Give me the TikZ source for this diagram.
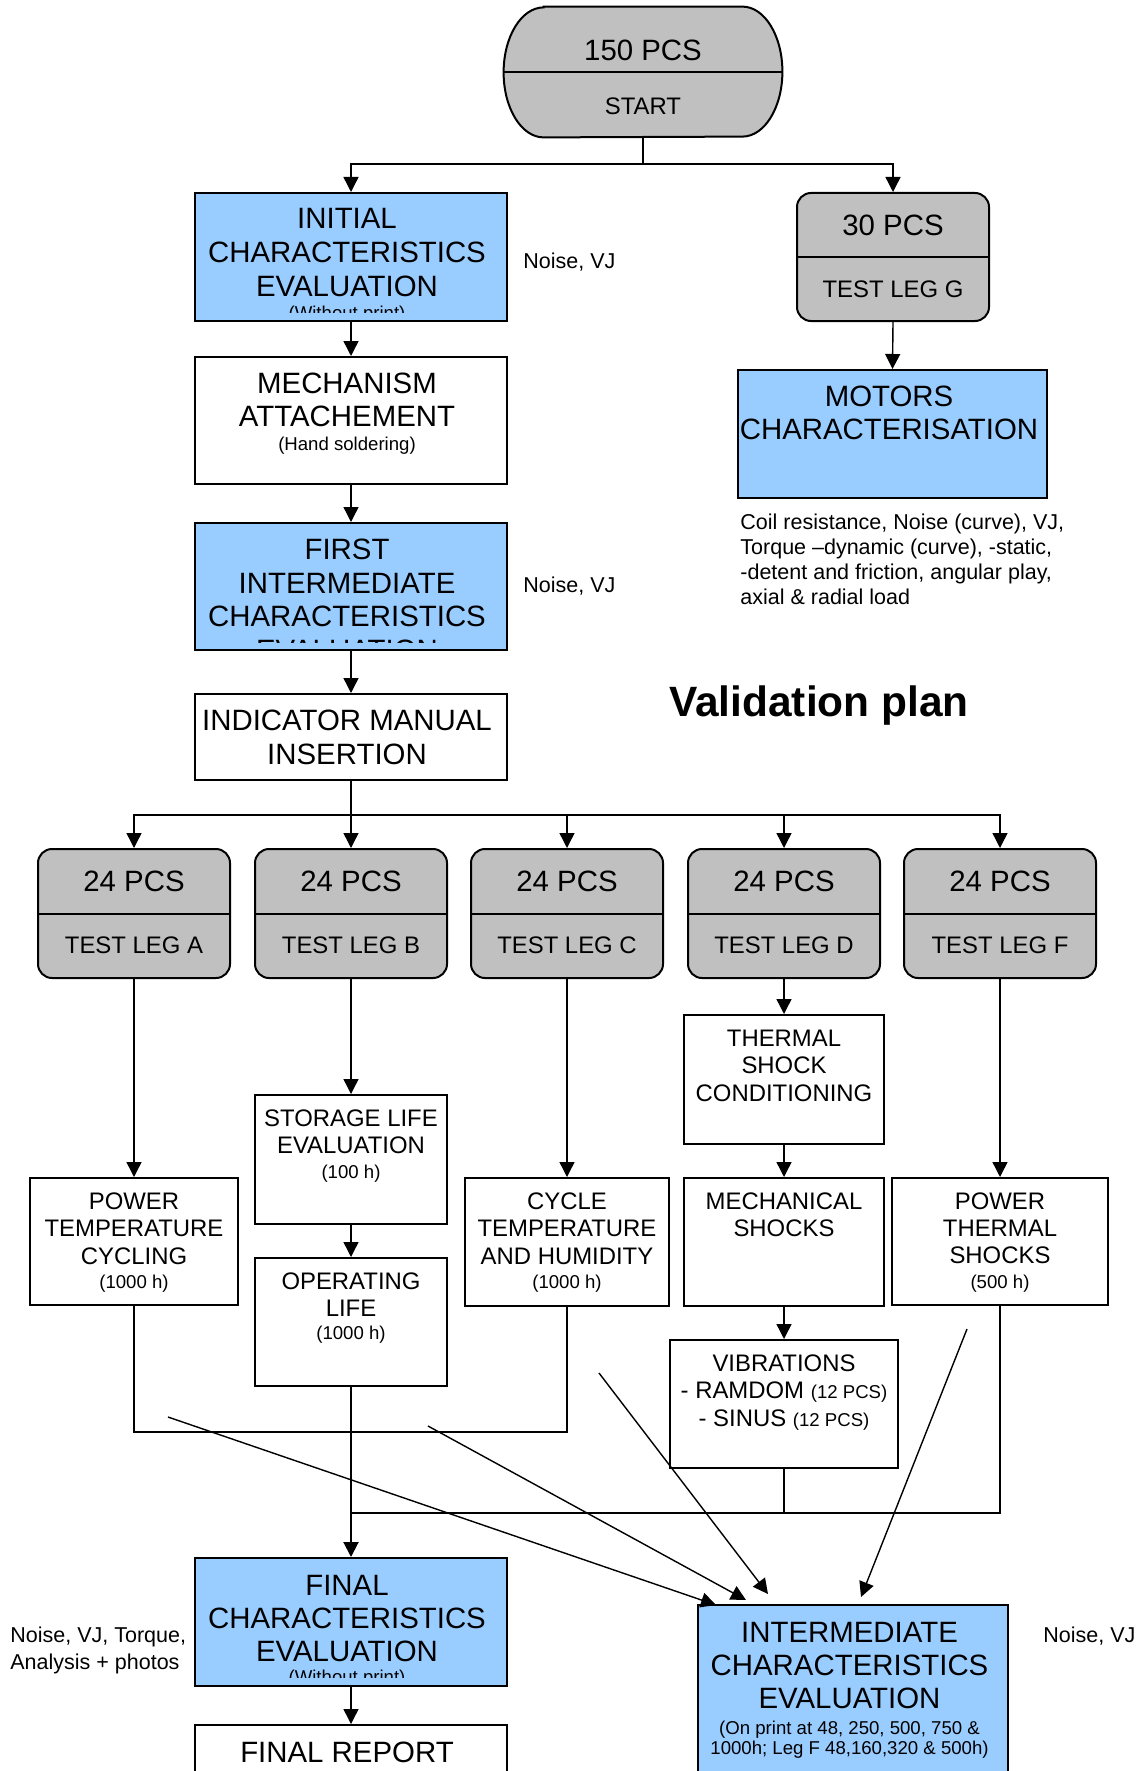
\documentclass[tikz,border=0pt]{standalone}
\usepackage{fontspec}
\setmainfont{Liberation Sans}
\usetikzlibrary{fit,arrows.meta}
\definecolor{blueC}{HTML}{99CCFF}
\definecolor{grayC}{HTML}{C0C0C0}
\newcommand\fbig{\fontsize{14.7pt}{16pt}\selectfont}
\newcommand\fmed{\fontsize{11.95pt}{14pt}\selectfont}
\newcommand\fsml{\fontsize{9.3pt}{11pt}\selectfont}
\newcommand\fnote{\fontsize{10.75pt}{12.5pt}\selectfont}
\newcounter{tln}
\newcommand\tl[4]{\stepcounter{tln}\edef\tlname{t\arabic{tln}}\node[#1] (\tlname) at (#2,#3) {#4};}
\begin{document}
\begin{tikzpicture}[x=0.5pt,y=-0.5pt,
  big/.style={font=\fbig, anchor=base, yshift=-5.26pt, inner sep=0pt},
  med/.style={font=\fmed, anchor=base, yshift=-4.28pt, inner sep=0pt},
  sml/.style={font=\fsml, anchor=base, yshift=-3.33pt, inner sep=0pt},
  note/.style={font=\fnote, anchor=base west, yshift=-3.85pt, inner sep=0pt},
  bx/.style={draw, line width=1pt, inner sep=0pt, fill=white},
  bl/.style={bx, fill=blueC},
  lg/.style={bx, fill=grayC, rounded corners=7pt},
  divl/.style={line width=1pt},
  conn/.style={line width=0.7pt},
  bus/.style={line width=1pt},
  >={Triangle[length=7.5pt,width=7.5pt]}
]
\useasboundingbox (0,0) rectangle (1137,1771);

% ---------- start
\node[inner sep=0pt, minimum width=139pt, minimum height=65pt] (start) at (643,72) {};
\draw[fill=grayC, line width=1pt]
  ([xshift=20pt]start.north west) -- ([xshift=-20pt]start.north east)
  arc[start angle=90, end angle=-90, x radius=20pt, y radius=32.5pt]
  -- ([xshift=20pt]start.south west)
  arc[start angle=270, end angle=90, x radius=20pt, y radius=32.5pt] -- cycle;
\draw[divl] (start.west) -- (start.east);
\tl{big}{643}{50}{150 PCS}
\tl{med}{643}{106}{START}

% ---------- left column
\node[bl, fit={(195,193) (507,321)}] (init) {};
\tl{big}{347}{218}{INITIAL}
\tl{big}{347}{252}{CHARACTERISTICS}
\tl{big}{347}{286}{EVALUATION}
\begin{scope}
  \clip (195,193) rectangle (507,312);
  \tl{sml}{347}{313}{(Without print)}
\end{scope}
\tl{note}{523}{261}{Noise, VJ}

\node[bx, fit={(195,357) (507,484)}] (mech) {};
\tl{big}{347}{383}{MECHANISM}
\tl{big}{347}{416}{ATTACHEMENT}
\tl{sml}{347}{444}{(Hand soldering)}

\node[bl, fit={(195,523) (507,650)}] (first) {};
\tl{big}{347}{548.5}{FIRST}
\tl{big}{347}{582.5}{INTERMEDIATE}
\tl{big}{347}{615.8}{CHARACTERISTICS}
\begin{scope}
  \clip (195,523) rectangle (507,642);
  \tl{big}{347}{649.5}{EVALUATION}
\end{scope}
\tl{note}{523}{585}{Noise, VJ}

\node[bx, fit={(195,694) (507,780)}] (ind) {};
\tl{big}{347}{720}{INDICATOR MANUAL}
\tl{big}{347}{754}{INSERTION}

% ---------- right top
\node[lg, fit={(797,193) (989,321)}] (legG) {};
\draw[divl] (legG.west) -- (legG.east);
\tl{big}{893}{225}{30 PCS}
\tl{med}{893}{289}{TEST LEG G}

\node[bl, fit={(738,370) (1047,498)}] (motors) {};
\tl{big}{889}{396}{MOTORS}
\tl{big}{889}{429}{CHARACTERISATION}

\tl{note}{740}{522}{Coil resistance, Noise (curve), VJ,}
\tl{note}{740}{547}{Torque –dynamic (curve), -static,}
\tl{note}{740}{572}{-detent and friction, angular play,}
\tl{note}{740}{597}{axial \& radial load}

\node[font=\bfseries\fontsize{21.2pt}{24pt}\selectfont, anchor=base, yshift=-7.6pt, inner sep=0pt] (title) at (819,701) {Validation plan};

% ---------- legs
\node[lg, fit={(38,849) (230,978)}] (legA) {};
\node[lg, fit={(255,849) (447,978)}] (legB) {};
\node[lg, fit={(471,849) (663,978)}] (legC) {};
\node[lg, fit={(688,849) (880,978)}] (legD) {};
\node[lg, fit={(904,849) (1096,978)}] (legF) {};
\foreach \n in {legA,legB,legC,legD,legF} {\draw[divl] (\n.west) -- (\n.east);}
\tl{big}{134}{881}{24 PCS}
\tl{big}{351}{881}{24 PCS}
\tl{big}{567}{881}{24 PCS}
\tl{big}{784}{881}{24 PCS}
\tl{big}{1000}{881}{24 PCS}
\tl{med}{134}{945}{TEST LEG A}
\tl{med}{351}{945}{TEST LEG B}
\tl{med}{567}{945}{TEST LEG C}
\tl{med}{784}{945}{TEST LEG D}
\tl{med}{1000}{945}{TEST LEG F}

% ---------- test boxes
\node[bx, fit={(30,1178) (238,1305)}] (powA) {};
\tl{med}{134}{1201}{POWER}
\tl{med}{134}{1227.5}{TEMPERATURE}
\tl{med}{134}{1255.5}{CYCLING}
\tl{sml}{134}{1282}{(1000 h)}

\node[bx, fit={(255,1095) (447,1224)}] (stor) {};
\tl{med}{351}{1118}{STORAGE LIFE}
\tl{med}{351}{1145}{EVALUATION}
\tl{sml}{351}{1172}{(100 h)}

\node[bx, fit={(255,1258) (447,1386)}] (oper) {};
\tl{med}{351}{1281}{OPERATING}
\tl{med}{351}{1307.5}{LIFE}
\tl{sml}{351}{1333}{(1000 h)}

\node[bx, fit={(465,1178) (669,1306)}] (cycle) {};
\tl{med}{567}{1201}{CYCLE}
\tl{med}{567}{1227.5}{TEMPERATURE}
\tl{med}{567}{1255.5}{AND HUMIDITY}
\tl{sml}{567}{1282}{(1000 h)}

\node[bx, fit={(684,1015) (884,1144)}] (thermal) {};
\tl{med}{784}{1038}{THERMAL}
\tl{med}{784}{1065}{SHOCK}
\tl{med}{784}{1093}{CONDITIONING}

\node[bx, fit={(684,1178) (884,1306)}] (mechS) {};
\tl{med}{784}{1201}{MECHANICAL}
\tl{med}{784}{1227.5}{SHOCKS}

\node[bx, fit={(670,1340) (898,1468)}] (vib) {};
\tl{med}{784}{1362.5}{VIBRATIONS}
\tl{med}{784}{1390}{- RAMDOM {\fsml(12 PCS)}}
\tl{med}{784}{1417.5}{- SINUS {\fsml(12 PCS)}}

\node[bx, fit={(892,1178) (1108,1305)}] (ptherm) {};
\tl{med}{1000}{1201}{POWER}
\tl{med}{1000}{1227.5}{THERMAL}
\tl{med}{1000}{1255}{SHOCKS}
\tl{sml}{1000}{1282}{(500 h)}

% ---------- bottom
\node[bl, fit={(195,1558) (507,1686)}] (final) {};
\tl{big}{347}{1584.5}{FINAL}
\tl{big}{347}{1617.5}{CHARACTERISTICS}
\tl{big}{347}{1650.5}{EVALUATION}
\begin{scope}
  \clip (195,1558) rectangle (507,1677);
  \tl{sml}{347}{1677}{(Without print)}
\end{scope}
\tl{note}{10}{1635}{Noise, VJ, Torque,}
\tl{note}{10}{1662}{Analysis + photos}

\node[bx, fit={(195,1725) (507,1800)}] (report) {};
\tl{big}{347}{1752}{FINAL REPORT}

\node[bl, fit={(698,1605) (1008,1800)}] (inter) {};
\tl{big}{849.5}{1632}{INTERMEDIATE}
\tl{big}{849.5}{1665}{CHARACTERISTICS}
\tl{big}{849.5}{1698}{EVALUATION}
\tl{sml}{849.5}{1727.5}{(On print at 48, 250, 500, 750 \&}
\tl{sml}{849.5}{1748}{1000h; Leg F 48,160,320 \& 500h)}
\tl{note}{1043}{1635}{Noise, VJ}

% ---------- connectors
\coordinate (sj) at (643,164);
\draw[conn] (start.south) -- (sj);
\draw[conn,->] (sj) -| (init.north);
\draw[conn,->] (sj) -| (legG.north);
\draw[conn,->] (legG.south) -- (motors.north);
\draw[conn,->] (init.south) -- (mech.north);
\draw[conn,->] (mech.south) -- (first.north);
\draw[conn,->] (first.south) -- (ind.north);

\coordinate (bj) at (351,815);
\draw[conn] (ind.south) -- (bj);
\foreach \n in {legA,legB,legC,legD,legF} {\draw[conn,->] (bj) -| (\n.north);}

\draw[conn,->] (legA.south) -- (powA.north);
\draw[conn,->] (legB.south) -- (stor.north);
\draw[conn,->] (stor.south) -- (oper.north);
\draw[conn,->] (legC.south) -- (cycle.north);
\draw[conn,->] (legD.south) -- (thermal.north);
\draw[conn,->] (thermal.south) -- (mechS.north);
\draw[conn,->] (mechS.south) -- (vib.north);
\draw[conn,->] (legF.south) -- (ptherm.north);

\coordinate (c1) at (134,1432);
\draw[conn] (powA.south) -- (c1) -| (cycle.south);
\coordinate (c2) at (351,1513);
\draw[bus] (ptherm.south) |- (c2);
\draw[bus] (vib.south) -- (vib.south |- c2);
\draw[bus,->] (oper.south) -- (final.north);
\draw[conn,->] (final.south) -- (report.north);

\coordinate (d1a) at (168,1417); \coordinate (d1b) at (716,1605);
\coordinate (d2a) at (428,1426); \coordinate (d2b) at (746,1600);
\coordinate (d3a) at (599,1373); \coordinate (d3b) at (768,1594);
\coordinate (d4a) at (967,1329); \coordinate (d4b) at (861,1597);
\draw[conn,->] (d1a) -- (d1b);
\draw[conn,->] (d2a) -- (d2b);
\draw[conn,->] (d3a) -- (d3b);
\draw[conn,->] (d4a) -- (d4b);
\end{tikzpicture}
\end{document}
